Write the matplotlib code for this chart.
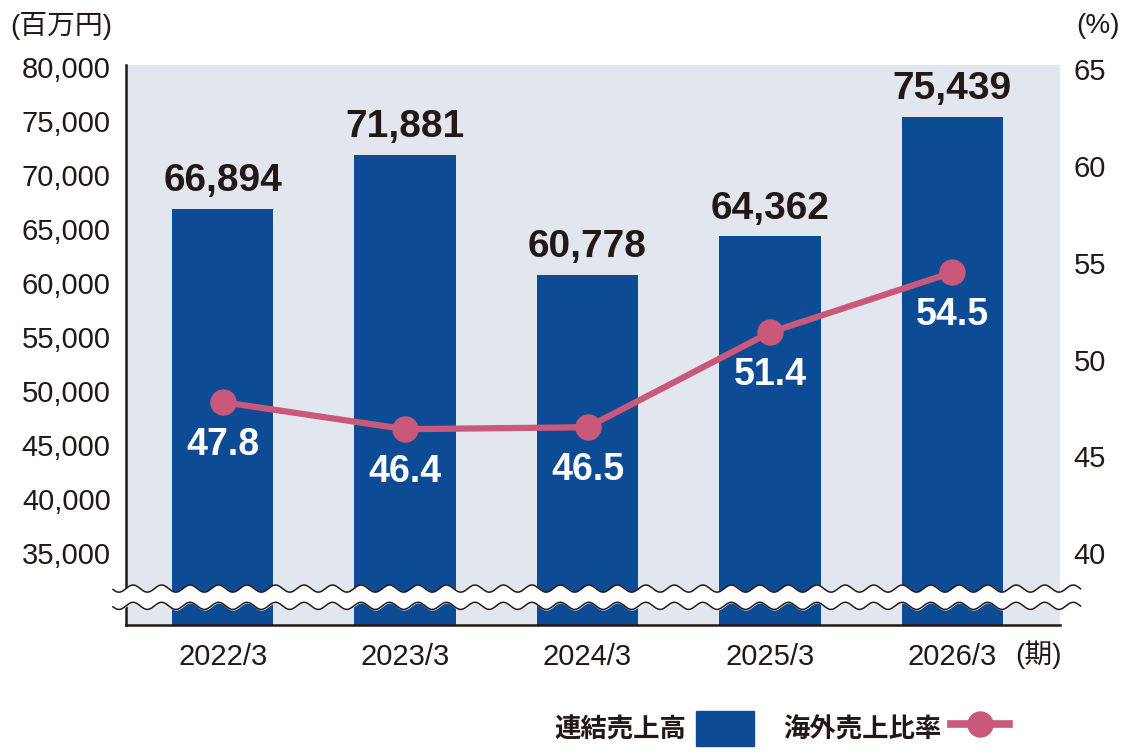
import numpy as np
import matplotlib
matplotlib.use("Agg")
import matplotlib.pyplot as plt
from matplotlib.patches import Patch
from matplotlib.lines import Line2D

plt.rcParams['font.family'] = ['Liberation Sans', 'Noto Sans CJK JP', 'DejaVu Sans']

# data
periods = ['2022/3', '2023/3', '2024/3', '2025/3', '2026/3']
sales = [66894, 71881, 60778, 64362, 75439]          # 連結売上高 (百万円)
overseas_ratio = [47.8, 46.4, 46.5, 51.4, 54.5]      # 海外売上比率 (%)
yen_ticks = [35000, 40000, 45000, 50000, 55000, 60000, 65000, 70000, 75000, 80000]
pct_ticks = [40, 45, 50, 55, 60, 65]

bar_col = '#0D4C94'
line_col = '#C9587A'
bg_col = '#E2E7EF'
txt_col = '#231815'

fig = plt.figure(figsize=(11.28, 7.56), dpi=100)
ax = fig.add_axes([0.1117, 0.1733, 0.828, 0.7407])
ax.set_facecolor(bg_col)

ax.set_ylim(28380, 80230)
ax.set_xlim(-0.53, 4.59)

x = np.arange(len(periods))
ax.bar(x, sales, width=0.555, color=bar_col, zorder=2)
for xi, v in zip(x, sales):
    ax.annotate(f'{v:,}', (xi, v), xytext=(0, 7), textcoords='offset points',
                ha='center', va='bottom', fontsize=28, fontweight='bold', color=txt_col)

# right axis (%)
ax2 = ax.twinx()
ax2.set_ylim(36.28, 65.22)
ax2.plot(x, overseas_ratio, color=line_col, lw=4.5, marker='o', ms=18, zorder=3)
for xi, v in zip(x, overseas_ratio):
    ax2.annotate(f'{v}', (xi, v), xytext=(0, -28), textcoords='offset points',
                 ha='center', va='center_baseline', fontsize=27, fontweight='bold',
                 color='white')

ax.set_yticks(yen_ticks)
ax.set_yticklabels([f'{t:,}' for t in yen_ticks])
ax2.set_yticks(pct_ticks)
ax.set_xticks(x)
ax.set_xticklabels(periods)
for a in (ax, ax2):
    a.tick_params(length=0, labelsize=21, colors=txt_col)
    for s in a.spines.values():
        s.set_visible(False)
ax.tick_params(axis='y', pad=11)
ax.tick_params(axis='x', pad=13)
ax2.tick_params(axis='y', pad=10)
for side in ('left', 'bottom'):
    ax.spines[side].set_visible(True)
    ax.spines[side].set_linewidth(1.8)
    ax.spines[side].set_color(txt_col)

# axis break: white band between two wavy lines
tr = ax.get_yaxis_transform()
wx = np.linspace(-0.014, 1.022, 800)
wave = 330 * np.sin(2 * np.pi * wx / 0.0305)
up = 31750 + wave
lo = 30150 + wave
ax2.fill_between(wx, up, lo, transform=tr, color='white', zorder=5, clip_on=False)
ax2.plot(wx, up, transform=tr, color=txt_col, lw=1.1, zorder=6, clip_on=False)
ax2.plot(wx, lo, transform=tr, color=txt_col, lw=1.1, zorder=6, clip_on=False)

# unit labels
fig.text(0.009, 0.966, '(百万円)', fontsize=20, color=txt_col, va='center', ha='left')
fig.text(0.993, 0.966, '(%)', fontsize=20, color=txt_col, va='center', ha='right')
fig.text(0.921, 0.134, '(期)', fontsize=20, color=txt_col, va='center', ha='center')

# legend
handles = [Patch(color=bar_col),
           Line2D([0], [0], color=line_col, lw=5.5, marker='o', ms=18)]
leg = fig.legend(handles, ['連結売上高', '海外売上比率'], ncol=2, markerfirst=False,
                 frameon=False, loc='center right', bbox_to_anchor=(0.916, 0.036),
                 prop={'size': 19, 'weight': 'bold'}, handlelength=2.2, handleheight=1.67,
                 handletextpad=0.38, columnspacing=1.1)
for t in leg.get_texts():
    t.set_color(txt_col)

fig.savefig('out.png', dpi=100)
